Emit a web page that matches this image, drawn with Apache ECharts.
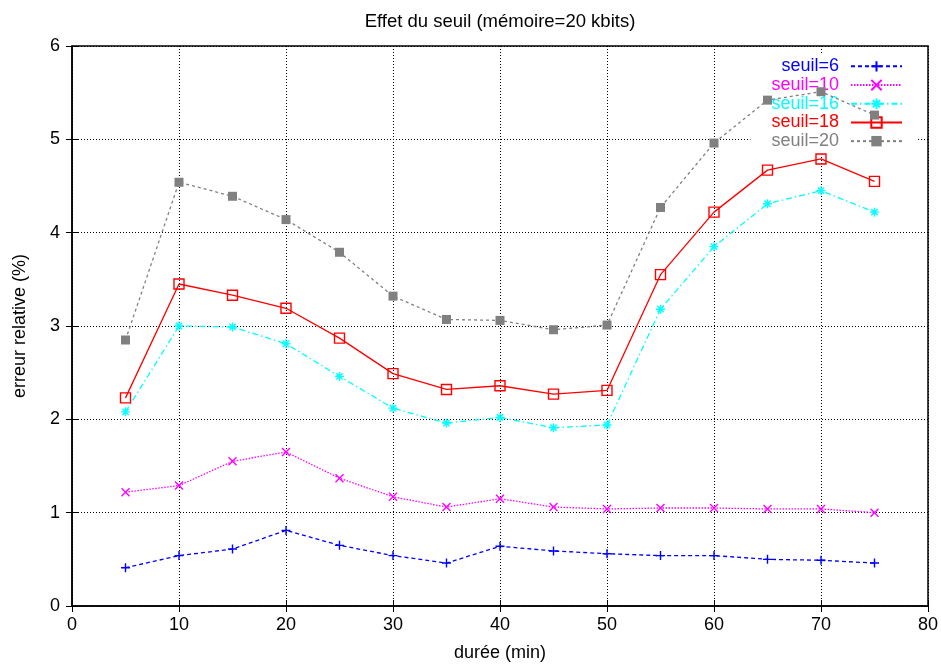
<!DOCTYPE html>
<html>
<head>
<meta charset="utf-8">
<script src="https://cdn.jsdelivr.net/npm/echarts@6/dist/echarts.min.js"></script>
<style>
  html, body { margin: 0; padding: 0; background: #fff; }
  #chart { width: 941px; height: 665px; }
</style>
</head>
<body>
<div id="chart"></div>
<script>
// durée (min)
const durees = [5, 10, 15, 20, 25, 30, 35, 40, 45, 50, 55, 60, 65, 70, 75];

// erreur relative (%) for each threshold
const seuil6  = [0.41, 0.54, 0.61, 0.81, 0.65, 0.54, 0.46, 0.64, 0.59, 0.56, 0.54, 0.54, 0.50, 0.49, 0.46];
const seuil10 = [1.22, 1.29, 1.55, 1.65, 1.37, 1.17, 1.06, 1.15, 1.06, 1.04, 1.05, 1.05, 1.04, 1.04, 1.00];
const seuil16 = [2.08, 3.00, 2.99, 2.81, 2.46, 2.12, 1.96, 2.02, 1.91, 1.94, 3.18, 3.85, 4.31, 4.45, 4.22];
const seuil18 = [2.23, 3.45, 3.33, 3.19, 2.87, 2.49, 2.32, 2.36, 2.27, 2.31, 3.55, 4.22, 4.67, 4.79, 4.55];
const seuil20 = [2.85, 4.54, 4.39, 4.14, 3.79, 3.32, 3.07, 3.06, 2.96, 3.01, 4.27, 4.96, 5.42, 5.51, 5.26];

const xTicks = [0, 10, 20, 30, 40, 50, 60, 70, 80];
const yTicks = [0, 1, 2, 3, 4, 5, 6];

const FONT = '"Liberation Sans", Arial, sans-serif';
const FS = 18;

// point glyphs
const PLUS = 'path://M0,5L10,5M5,0L5,10';
const CROSS = 'path://M0,0L10,10M10,0L0,10';
const STAR = 'path://M0,5L10,5M5,0L5,10M1.5,1.5L8.5,8.5M8.5,1.5L1.5,8.5';
const BOX = 'path://M0,0L10,0L10,10L0,10Z';

function pairs(values) {
  return values.map((v, i) => [durees[i], v]);
}

function makeSeries(name, values, color, dash, symbol, size, filled) {
  return {
    name: name,
    type: 'line',
    data: pairs(values),
    z: 3,
    symbol: symbol,
    symbolSize: size,
    showAllSymbol: true,
    animation: false,
    lineStyle: { color: color, width: 1.3, type: dash },
    itemStyle: {
      color: filled ? color : 'rgba(0,0,0,0)',
      borderColor: color,
      borderWidth: filled ? 0 : 1.4
    },
    emphasis: { disabled: true }
  };
}

const series = [
  makeSeries('seuil=6', seuil6, '#0000ff', [4, 3], PLUS, 9, false),
  makeSeries('seuil=10', seuil10, '#ff00ff', [1.5, 1.5], CROSS, 8, false),
  makeSeries('seuil=16', seuil16, '#00ffff', [6, 3, 1.5, 3], STAR, 9, false),
  makeSeries('seuil=18', seuil18, '#ff0000', 'solid', BOX, 10, false),
  makeSeries('seuil=20', seuil20, '#808080', [3, 3], 'rect', 9, true)
];

const legendColors = ['#0000ff', '#ff00ff', '#00ffff', '#ff0000', '#808080'];

const chart = echarts.init(document.getElementById('chart'), null, { renderer: 'canvas' });

const gridLine = { show: true, lineStyle: { color: '#000', width: 1, type: [1, 2] } };

chart.setOption({
  animation: false,
  backgroundColor: '#fff',
  textStyle: { fontFamily: FONT },
  title: {
    text: 'Effet du seuil (mémoire=20 kbits)',
    left: 495,
    textAlign: 'center',
    top: 7,
    textStyle: { fontFamily: FONT, fontSize: 18.5, fontWeight: 'normal', color: '#000' }
  },
  legend: {
    orient: 'vertical',
    align: 'right',
    right: 24,
    top: 55,
    z: 1,
    padding: [2, 14, 4, 21],
    backgroundColor: '#fff',
    itemWidth: 51,
    itemHeight: 13,
    itemGap: 0,
    selectedMode: false,
    textStyle: { fontFamily: FONT, fontSize: FS, lineHeight: 18.7, padding: [0, 7, 0, 0] },
    data: series.map((s, i) => ({ name: s.name, textStyle: { color: legendColors[i] } }))
  },
  grid: {
    left: 72,
    right: 13,
    top: 46,
    bottom: 59,
    outerBoundsMode: 'none',
    containLabel: false,
    show: true,
    borderColor: '#000',
    borderWidth: 1.5,
    backgroundColor: 'rgba(0,0,0,0)'
  },
  xAxis: [{
    type: 'value',
    min: xTicks[0],
    max: xTicks[xTicks.length - 1],
    interval: 10,
    name: 'durée (min)',
    nameLocation: 'middle',
    nameGap: 38,
    nameTextStyle: { fontFamily: FONT, fontSize: FS, color: '#000' },
    axisLine: { show: true, lineStyle: { color: '#000', width: 1.5 } },
    axisTick: { show: true, inside: true, length: 6, lineStyle: { color: '#000' } },
    axisLabel: { fontFamily: FONT, fontSize: FS, color: '#000', margin: 10 },
    splitLine: gridLine
  }, {
    type: 'value',
    position: 'top',
    min: xTicks[0],
    max: xTicks[xTicks.length - 1],
    interval: 10,
    axisLine: { show: false },
    axisTick: { show: true, inside: true, length: 6, lineStyle: { color: '#000' } },
    axisLabel: { show: false },
    splitLine: { show: false }
  }],
  yAxis: [{
    type: 'value',
    min: yTicks[0],
    max: yTicks[yTicks.length - 1],
    interval: 1,
    name: 'erreur relative (%)',
    nameLocation: 'middle',
    nameGap: 43,
    nameRotate: 90,
    nameTextStyle: { fontFamily: FONT, fontSize: FS, color: '#000' },
    axisLine: { show: true, lineStyle: { color: '#000', width: 1.5 } },
    axisTick: { show: true, inside: true, length: 6, lineStyle: { color: '#000' } },
    axisLabel: { fontFamily: FONT, fontSize: FS, color: '#000', margin: 12 },
    splitLine: gridLine
  }, {
    type: 'value',
    position: 'right',
    min: yTicks[0],
    max: yTicks[yTicks.length - 1],
    interval: 1,
    axisLine: { show: false },
    axisTick: { show: true, inside: true, length: 6, lineStyle: { color: '#000' } },
    axisLabel: { show: false },
    splitLine: { show: false }
  }],
  series: series
});
</script>
</body>
</html>
